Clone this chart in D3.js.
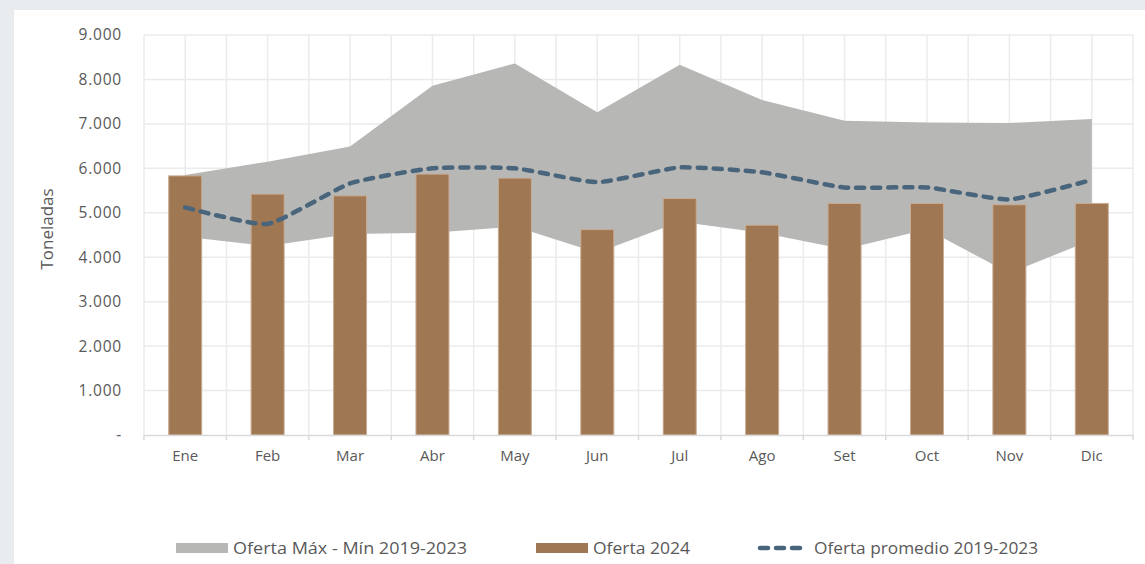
<!DOCTYPE html>
<html>
<head>
<meta charset="utf-8">
<script src="https://cdn.jsdelivr.net/npm/d3@7"></script>
<style>
  body { margin: 0; background: #e8ecef; }
  svg { display: block; }
  text { font-family: "Open Sans", sans-serif; fill: #595959; }
</style>
</head>
<body>
<svg id="chart" width="1145" height="564"></svg>
<script>
const months = ['Ene', 'Feb', 'Mar', 'Abr', 'May', 'Jun', 'Jul', 'Ago', 'Set', 'Oct', 'Nov', 'Dic'];
const oferta2024 = [5830, 5420, 5380, 5870, 5780, 4620, 5320, 4720, 5210, 5210, 5180, 5210];
const ofertaMax = [5850, 6150, 6490, 7860, 8360, 7260, 8330, 7540, 7070, 7030, 7020, 7110];
const ofertaMin = [4460, 4250, 4520, 4550, 4690, 4100, 4800, 4550, 4180, 4630, 3640, 4390];
const ofertaProm = [5120, 4750, 5660, 6000, 6000, 5690, 6020, 5910, 5570, 5570, 5300, 5740];
const yTicks = [0, 1000, 2000, 3000, 4000, 5000, 6000, 7000, 8000, 9000];
const legendLabels = ['Oferta Máx - Mín 2019-2023', 'Oferta 2024', 'Oferta promedio 2019-2023'];

const svg = d3.select('#chart');

// white panel
svg.append('rect').attr('x', 14).attr('y', 10).attr('width', 1131).attr('height', 554).attr('fill', '#fff');

const plotLeft = 144, plotRight = 1133, plotTop = 35, plotBottom = 435;

const x = d3.scaleBand().domain(months).range([plotLeft, plotRight]);
const y = d3.scaleLinear().domain([0, 9000]).range([plotBottom, plotTop]);
const cx = (d) => x(d) + x.bandwidth() / 2;

// gridlines
const grid = svg.append('g');
yTicks.slice(1).forEach((t) => {
    grid.append('line').attr('x1', plotLeft).attr('x2', plotRight).attr('y1', y(t)).attr('y2', y(t))
        .attr('stroke', '#ebebeb').attr('stroke-width', 1.5);
});
let vx = [];
months.forEach((m) => { vx.push(x(m)); vx.push(cx(m)); });
vx.push(plotRight);
vx.forEach((v) => {
    grid.append('line').attr('x1', v).attr('x2', v).attr('y1', plotTop).attr('y2', plotBottom)
        .attr('stroke', '#ebebeb').attr('stroke-width', 1.5);
});

// max-min band
const band = months.map((m, i) => ({ m: m, hi: ofertaMax[i], lo: ofertaMin[i] }));
const area = d3.area()
    .x((d) => cx(d.m))
    .y0((d) => y(d.lo))
    .y1((d) => y(d.hi));
svg.append('path').datum(band).attr('d', area).attr('fill', '#b7b7b5');

// bars
const barW = 33;
svg.append('g').selectAll('rect')
    .data(months)
    .join('rect')
    .attr('x', (d) => cx(d) - barW / 2)
    .attr('y', (d, i) => y(oferta2024[i]))
    .attr('width', barW)
    .attr('height', (d, i) => y(0) - y(oferta2024[i]))
    .attr('fill', '#9f7753')
    .attr('stroke', '#c8ab92')
    .attr('stroke-width', 1);

// average line (slightly smoothed)
const line = d3.line()
    .x((d, i) => cx(months[i]))
    .y((d) => y(d))
    .curve(d3.curveCardinal.tension(0.5));
svg.append('path').datum(ofertaProm).attr('d', line)
    .attr('fill', 'none')
    .attr('stroke', '#49657c')
    .attr('stroke-width', 4.5)
    .attr('stroke-dasharray', '8,8')
    .attr('stroke-linecap', 'round');

// x axis
const xAxis = svg.append('g').attr('transform', `translate(0,${plotBottom})`)
    .call(d3.axisBottom(x).tickSize(0).tickPadding(15));
xAxis.select('.domain').attr('stroke', '#d9d9d9').attr('stroke-width', 1.5);
xAxis.selectAll('text').attr('font-size', 15).style('font-family', '"Open Sans", sans-serif').attr('fill', '#595959');
vx.filter((v, i) => i % 2 === 0).forEach((v) => {
    xAxis.append('line').attr('x1', v).attr('x2', v).attr('y1', 0).attr('y2', 5)
        .attr('stroke', '#d9d9d9').attr('stroke-width', 1.5);
});

// y axis
const yAxis = svg.append('g').attr('transform', `translate(${plotLeft},0)`)
    .call(d3.axisLeft(y).tickValues(yTicks).tickSize(0).tickPadding(22)
        .tickFormat((d) => d === 0 ? '-' : d3.format(',')(d).replace(',', '.')));
yAxis.select('.domain').remove();
yAxis.selectAll('text').attr('font-size', 15.5).style('font-family', '"Open Sans", sans-serif')
    .attr('fill', '#595959').attr('letter-spacing', 0.8);

svg.append('text')
    .attr('transform', `translate(53,229) rotate(-90)`)
    .attr('text-anchor', 'middle')
    .attr('font-size', 17)
    .text('Toneladas');

// legend
const lg = svg.append('g').attr('transform', 'translate(0,548)');
const lgX = [176, 536, 757];
lg.append('rect').attr('x', lgX[0]).attr('y', -5).attr('width', 52).attr('height', 10).attr('fill', '#b7b7b5');
lg.append('rect').attr('x', lgX[1]).attr('y', -5).attr('width', 52).attr('height', 10).attr('fill', '#9f7753');
lg.append('line').attr('x1', lgX[2] + 3).attr('x2', lgX[2] + 50).attr('y1', 0).attr('y2', 0)
    .attr('stroke', '#49657c').attr('stroke-width', 4.5)
    .attr('stroke-dasharray', '8,8').attr('stroke-linecap', 'round');
const lgW = [234, 97, 224];
legendLabels.forEach((t, i) => {
    lg.append('text').attr('x', lgX[i] + 57).attr('y', 6)
        .attr('font-size', 16)
        .attr('textLength', lgW[i]).attr('lengthAdjust', 'spacingAndGlyphs')
        .text(t);
});
</script>
</body>
</html>
